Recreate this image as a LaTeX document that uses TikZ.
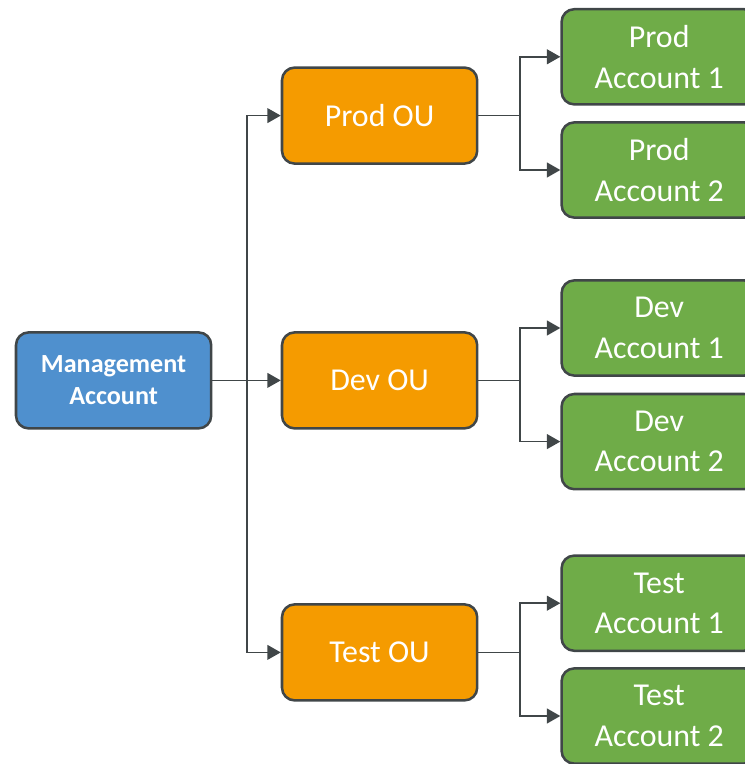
\documentclass[tikz,border=0pt]{standalone}
\usepackage{fontspec}
\setmainfont{Carlito}
\usetikzlibrary{arrows.meta}

\definecolor{mgmtblue}{RGB}{79,144,206}
\definecolor{ouorange}{RGB}{245,155,0}
\definecolor{accgreen}{RGB}{111,172,72}
\definecolor{edgegray}{RGB}{64,70,72}

\begin{document}
\begin{tikzpicture}[
    box/.style={rectangle, rounded corners=9pt, draw=edgegray, line width=1.8pt,
        minimum width=4.88cm, minimum height=2.4cm, inner sep=0pt,
        align=center, text=white},
    mgmtbox/.style={box, fill=mgmtblue, font=\bfseries\fontsize{18.6}{22.7}\selectfont},
    oubox/.style={box, fill=ouorange, font=\fontsize{22.7}{28.8}\selectfont},
    accbox/.style={box, fill=accgreen, minimum height=2.38cm, font=\fontsize{22.7}{28.8}\selectfont},
    arrow/.style={-{Triangle[length=9.5pt, width=10.5pt]}, line width=1.1pt, draw=edgegray},
    plain/.style={line width=1.1pt, draw=edgegray}
]
    \useasboundingbox (0,0) rectangle (18.625,19.1);

    \node[mgmtbox] (mgmt) at (2.84, 9.59) {Management\\Account};

    \node[oubox] (prodou) at (9.49, 16.21) {Prod OU};
    \node[oubox] (devou)  at (9.49, 9.59)  {Dev OU};
    \node[oubox] (testou) at (9.49, 2.79)  {Test OU};

    \node[accbox] (prod1) at (16.48, 17.68) {Prod\\Account 1};
    \node[accbox] (prod2) at (16.48, 14.85) {Prod\\Account 2};
    \node[accbox] (dev1)  at (16.48, 10.90) {Dev\\Account 1};
    \node[accbox] (dev2)  at (16.48, 8.06)  {Dev\\Account 2};
    \node[accbox] (test1) at (16.48, 4.02)  {Test\\Account 1};
    \node[accbox] (test2) at (16.48, 1.20)  {Test\\Account 2};

    \coordinate (mgmtsplit) at (6.18, 9.59);
    \coordinate (prodsplit) at (13.00, 16.21);
    \coordinate (devsplit)  at (13.00, 9.59);
    \coordinate (testsplit) at (13.00, 2.79);

    \draw[arrow] (mgmt.east) -- (devou.west);
    \draw[arrow] (mgmtsplit) |- (prodou.west);
    \draw[arrow] (mgmtsplit) |- (testou.west);

    \draw[plain] (prodou.east) -- (prodsplit);
    \draw[arrow] (prodsplit) |- (prod1.west);
    \draw[arrow] (prodsplit) |- (prod2.west);

    \draw[plain] (devou.east) -- (devsplit);
    \draw[arrow] (devsplit) |- (dev1.west);
    \draw[arrow] (devsplit) |- (dev2.west);

    \draw[plain] (testou.east) -- (testsplit);
    \draw[arrow] (testsplit) |- (test1.west);
    \draw[arrow] (testsplit) |- (test2.west);
\end{tikzpicture}
\end{document}
